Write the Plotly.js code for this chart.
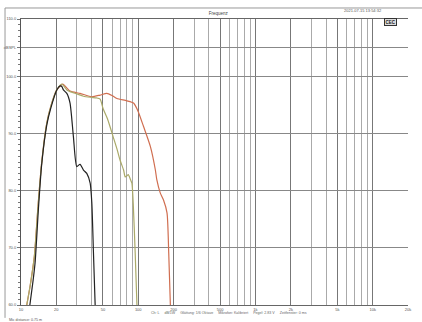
<!DOCTYPE html>
<html>
<head>
<meta charset="utf-8">
<script src="https://cdn.plot.ly/plotly-3.0.1.min.js"></script>
<style>html,body{margin:0;padding:0;background:#fff;}#chart{width:422px;height:322px;}</style>
</head>
<body>
<div id="chart"></div>
<script>
// ---- data ----
const freqBlack = [11.9, 12.7, 13.2, 14.1, 15.0, 16.6, 18.0, 20.2, 21.6, 22.3, 23.0, 24.6, 26.2, 28.0, 29.9, 31.9, 34.1, 36.4, 38.9, 40.2, 41.5, 42.9];
const dbBlack   = [60, 64.4, 67.5, 77.0, 84.5, 91.5, 94.5, 97.6, 98.3, 98.2, 97.6, 97.0, 95.3, 89.4, 84.2, 84.6, 83.6, 83.0, 81.3, 77.8, 69.1, 60];

const freqOlive = [11.2, 12.0, 13.0, 14.0, 15.0, 16.6, 18.0, 20.2, 22.3, 24.6, 26.2, 30, 34.1, 40, 44, 47.3, 50.2, 55, 61.1, 66, 70, 75, 77.4, 80, 82.2, 86, 88.3, 90.6, 94.2, 97.5];
const dbOlive   = [60, 63.5, 68.5, 77.5, 84.8, 91.8, 94.8, 97.6, 98.6, 97.6, 97.3, 96.9, 96.5, 96.3, 96.2, 96.0, 94.3, 92.4, 89.4, 87.2, 85.3, 83.6, 82.4, 82.6, 82.8, 81.9, 81.3, 77.8, 69.1, 60];

const freqRed = [11.2, 12.0, 13.0, 14.0, 15.0, 16.6, 18.0, 20.2, 22.7, 26.2, 31.9, 40.2, 47.3, 54, 60, 65.8, 80, 91.2, 100, 111, 127, 140, 144, 154, 164, 176, 182, 188];
const dbRed   = [60, 63.5, 68.5, 77.5, 84.8, 91.8, 94.8, 97.6, 98.6, 97.4, 97.0, 96.4, 96.7, 97.0, 96.6, 96.1, 95.7, 95.3, 93.8, 91.2, 87.7, 83.6, 81.9, 79.6, 78.4, 76.1, 69.1, 60];

const xTickVals = [10, 20, 50, 100, 200, 500, 1000, 2000, 5000, 10000, 20000];
const xTickText = ['10', '20', '50', '100', '200', '500', '1k', '2k', '5k', '10k', '20k'];
const xGridVals = [30,40,60,70,80,90,300,400,600,700,800,900,3000,4000,6000,7000,8000,9000];

const yTickVals = [60, 70, 80, 90, 100, 105, 110];
const yTickText = ['60.0', '70.0', '80.0', '90.0', '100.0', 'dBSPL', '110.0'];

const y2TickVals = [-180, -90, 0, 90, 180, 225, 270];
const y2TickText = ['-180', '-90.0', '0.0', '90.0', '180.0', 'Deg', '270.0'];

const titleText = 'Frequenz';
const dateText = '2021-07-15 13:54:32';
const footerText = 'Ch: L     dB/1W     Glättung: 1/6 Oktave     Mikrofon: Kalibriert     Pegel: 2.83 V     Zeitfenster: 0 ms';
const fileText = 'Mic distance: 0.75 m';

const FONT = 'Liberation Sans, Arial, sans-serif';

const traces = [
  {x: freqRed, y: dbRed, type: 'scatter', mode: 'lines', line: {color: '#d06e50', width: 1.2, shape: 'spline', smoothing: 0.6}, hoverinfo: 'skip'},
  {x: freqOlive, y: dbOlive, type: 'scatter', mode: 'lines', line: {color: '#aaa968', width: 1.2, shape: 'spline', smoothing: 0.6}, hoverinfo: 'skip'},
  {x: freqBlack, y: dbBlack, type: 'scatter', mode: 'lines', line: {color: '#222222', width: 1.2, shape: 'spline', smoothing: 0.6}, hoverinfo: 'skip'}
];

const layout = {
  width: 422, height: 322,
  margin: {l: 21, r: 14, t: 19, b: 17, pad: 0},
  paper_bgcolor: '#ffffff', plot_bgcolor: '#ffffff',
  showlegend: false,
  font: {family: FONT, size: 4, color: '#555'},
  title: {text: titleText, font: {family: FONT, size: 4.5, color: '#444'}, x: 0.517, xanchor: 'center', y: 0.957, yanchor: 'middle'},
  xaxis: {
    type: 'log', range: [1, Math.log10(20000)],
    tickmode: 'array', tickvals: xTickVals, ticktext: xTickText,
    showgrid: true, gridcolor: '#777', gridwidth: 1,
    minor: {tickmode: 'array', tickvals: xGridVals, showgrid: true, gridcolor: '#aaa', gridwidth: 1, ticks: ''},
    showline: true, linecolor: '#666', linewidth: 1, mirror: true,
    ticks: '', tickfont: {family: FONT, size: 4, color: '#555'},
    zeroline: false, fixedrange: true
  },
  yaxis: {
    range: [60, 110],
    tickmode: 'array', tickvals: yTickVals, ticktext: yTickText,
    showgrid: true, gridcolor: '#888', gridwidth: 1,
    minor: {dtick: 1, ticks: 'outside', ticklen: 2, tickcolor: '#777', showgrid: false},
    showline: true, linecolor: '#555', linewidth: 1,
    ticks: 'outside', ticklen: 3, tickcolor: '#777',
    tickfont: {family: FONT, size: 4, color: '#555'},
    zeroline: false, fixedrange: true
  },
  yaxis2: {
    overlaying: 'y', side: 'right', anchor: 'x',
    range: [-180, 270],
    tickmode: 'array', tickvals: y2TickVals, ticktext: y2TickText,
    showgrid: false,
    minor: {dtick: 15, ticks: 'outside', ticklen: 2, tickcolor: '#777'},
    showline: true, linecolor: '#444', linewidth: 1,
    ticks: 'outside', ticklen: 3, tickcolor: '#777',
    tickfont: {family: FONT, size: 4, color: '#555'},
    zeroline: false, fixedrange: true
  },
  shapes: [
    {type: 'line', xref: 'paper', yref: 'paper', x0: -0.0413, x1: 1.04, y0: 1.0385, y1: 1.0385, line: {color: '#999', width: 1}},
    {type: 'line', xref: 'paper', yref: 'paper', x0: -0.0413, x1: -0.0413, y0: 1.0385, y1: -0.045, line: {color: '#999', width: 1}}
  ],
  annotations: [
    {text: dateText, xref: 'paper', yref: 'paper', x: 0.885, y: 1.031, xanchor: 'center', yanchor: 'middle', showarrow: false, font: {family: FONT, size: 4, color: '#555'}},
    {text: '<b>CEC</b>', xref: 'paper', yref: 'paper', x: 0.955, y: 0.99, xanchor: 'center', yanchor: 'middle', showarrow: false, font: {family: FONT, size: 4.5, color: '#222'}, bordercolor: '#333', borderwidth: 1, borderpad: 0.5, bgcolor: '#ddd'},
    {text: footerText, xref: 'paper', yref: 'paper', x: 0.33, y: -0.028, xanchor: 'left', yanchor: 'middle', showarrow: false, font: {family: FONT, size: 3.6, color: '#666'}},
    {text: fileText, xref: 'paper', yref: 'paper', x: -0.036, y: -0.052, xanchor: 'left', yanchor: 'middle', showarrow: false, font: {family: FONT, size: 3.6, color: '#555'}}
  ]
};

Plotly.newPlot('chart', traces, layout, {displayModeBar: false, staticPlot: true});
</script>
</body>
</html>
